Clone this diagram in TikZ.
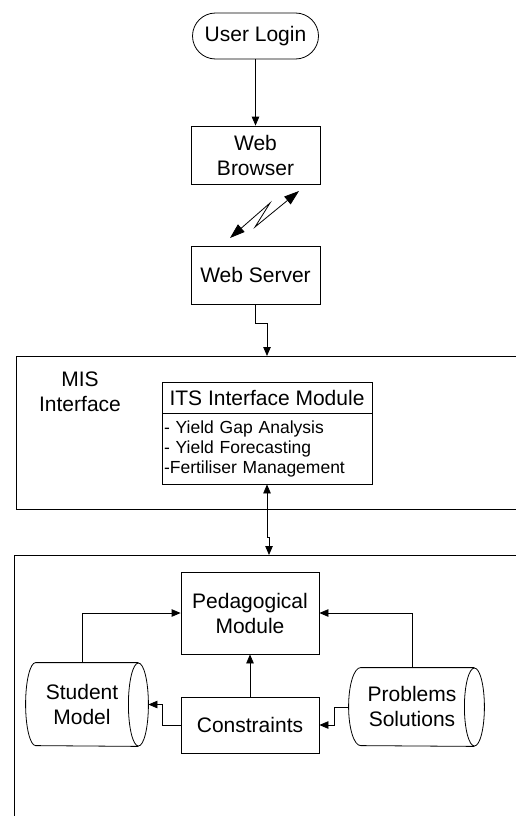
\documentclass[tikz,border=0pt]{standalone}
\usepackage{fontspec}
\setmainfont{Liberation Sans}
\usetikzlibrary{arrows.meta}
\begin{document}
\begin{tikzpicture}[x=1pt,y=-1pt,
  line width=0.8pt,
  arr/.style={-{Triangle[length=9pt,width=7.5pt]}},
  darr/.style={{Triangle[length=9pt,width=7.5pt]}-{Triangle[length=9pt,width=7.5pt]}},
  bigdarr/.style={{Triangle[length=15pt,width=10pt]}-{Triangle[length=15pt,width=10pt]}},
  box/.style={draw,rectangle,inner sep=0pt,align=center,font=\fontsize{21}{25}\selectfont},
  lbl/.style={inner sep=0pt,align=center,font=\fontsize{21}{25}\selectfont},
  cyl/.style={rectangle,inner sep=0pt},
]
\useasboundingbox (0,0) rectangle (516,816);

% top chain
\node[box,rounded corners=23pt,minimum width=126pt,minimum height=46pt] (login) at (255.5,36) {User Login};
\node[box,minimum width=129pt,minimum height=58pt] (wb) at (255.5,155) {Web\\Browser};
\node[box,minimum width=129pt,minimum height=58pt] (ws) at (255.5,275) {Web Server};
\draw[arr] (login.south) -- (wb.north);

% lightning link
\coordinate (lzA) at (230,238);
\coordinate (lzB) at (299,191);
\draw[bigdarr] (lzA) -- (270,203) -- (255,227) -- (lzB);

% MIS interface frame
\coordinate (misTop) at (267,356);
\draw (516,356) -- (16,356) -- (16,509) -- (516,509);
\draw[arr] (ws.south) -- ++(0,19) -| (misTop);
\node[lbl] (mislbl) at (80,391.5) {MIS\\Interface};

\node[box,minimum width=210pt,minimum height=31pt] (itst) at (267,397.5) {ITS Interface Module};
\node[draw,rectangle,minimum width=210pt,minimum height=71pt,text width=206pt,inner xsep=2pt,inner ysep=0pt,align=left,font=\fontsize{17.5}{20}\selectfont] (itsl) at (267,448.5) {- Yield Gap Analysis\\- Yield Forecasting\\-Fertiliser Management};

% lower frame
\draw (516,555) -- (14,555) -- (14,816);
\coordinate (lowTop) at (269,555);
\draw[darr] (itsl.south) -- ++(0,53) -| (lowTop);

% inner modules
\node[box,minimum width=138pt,minimum height=82pt] (ped) at (250,613) {Pedagogical\\Module};
\node[box,minimum width=138pt,minimum height=56pt] (cons) at (250,725) {Constraints};
\draw[arr] (cons.north) -- (ped.south);

% Student model cylinder
\node[cyl,minimum width=122pt,minimum height=83pt] (sm) at (87,704.5) {};
\node[lbl] (smt) at (82,704.5) {Student\\Model};
\draw ([xshift=10pt]sm.north west) arc[start angle=90,end angle=270,x radius=10pt,y radius=41.5pt]
      -- ([xshift=-10pt]sm.south east)
      ([xshift=10pt]sm.north west) -- ([xshift=-10pt]sm.north east);
\draw ([xshift=-10pt]sm.east) ellipse[x radius=10pt,y radius=41.5pt];

% Problems solutions cylinder
\node[cyl,minimum width=135pt,minimum height=78pt] (ps) at (416.5,707) {};
\node[lbl] (pst) at (412,706) {Problems\\Solutions};
\draw ([xshift=12pt]ps.north west) arc[start angle=90,end angle=270,x radius=12pt,y radius=39pt]
      -- ([xshift=-10pt]ps.south east)
      ([xshift=12pt]ps.north west) -- ([xshift=-10pt]ps.north east);
\draw ([xshift=-10pt]ps.east) ellipse[x radius=10pt,y radius=39pt];

% connectors
\draw[arr] (sm.north -| smt.center) |- (ped.west);
\draw[arr] (ps.north -| pst.center) |- (ped.east);
\draw[arr] (cons.west) -- ++(-18,0) |- (sm.east);
\draw[arr] (ps.west) -- ++(-14,0) |- (cons.east);
\end{tikzpicture}
\end{document}
